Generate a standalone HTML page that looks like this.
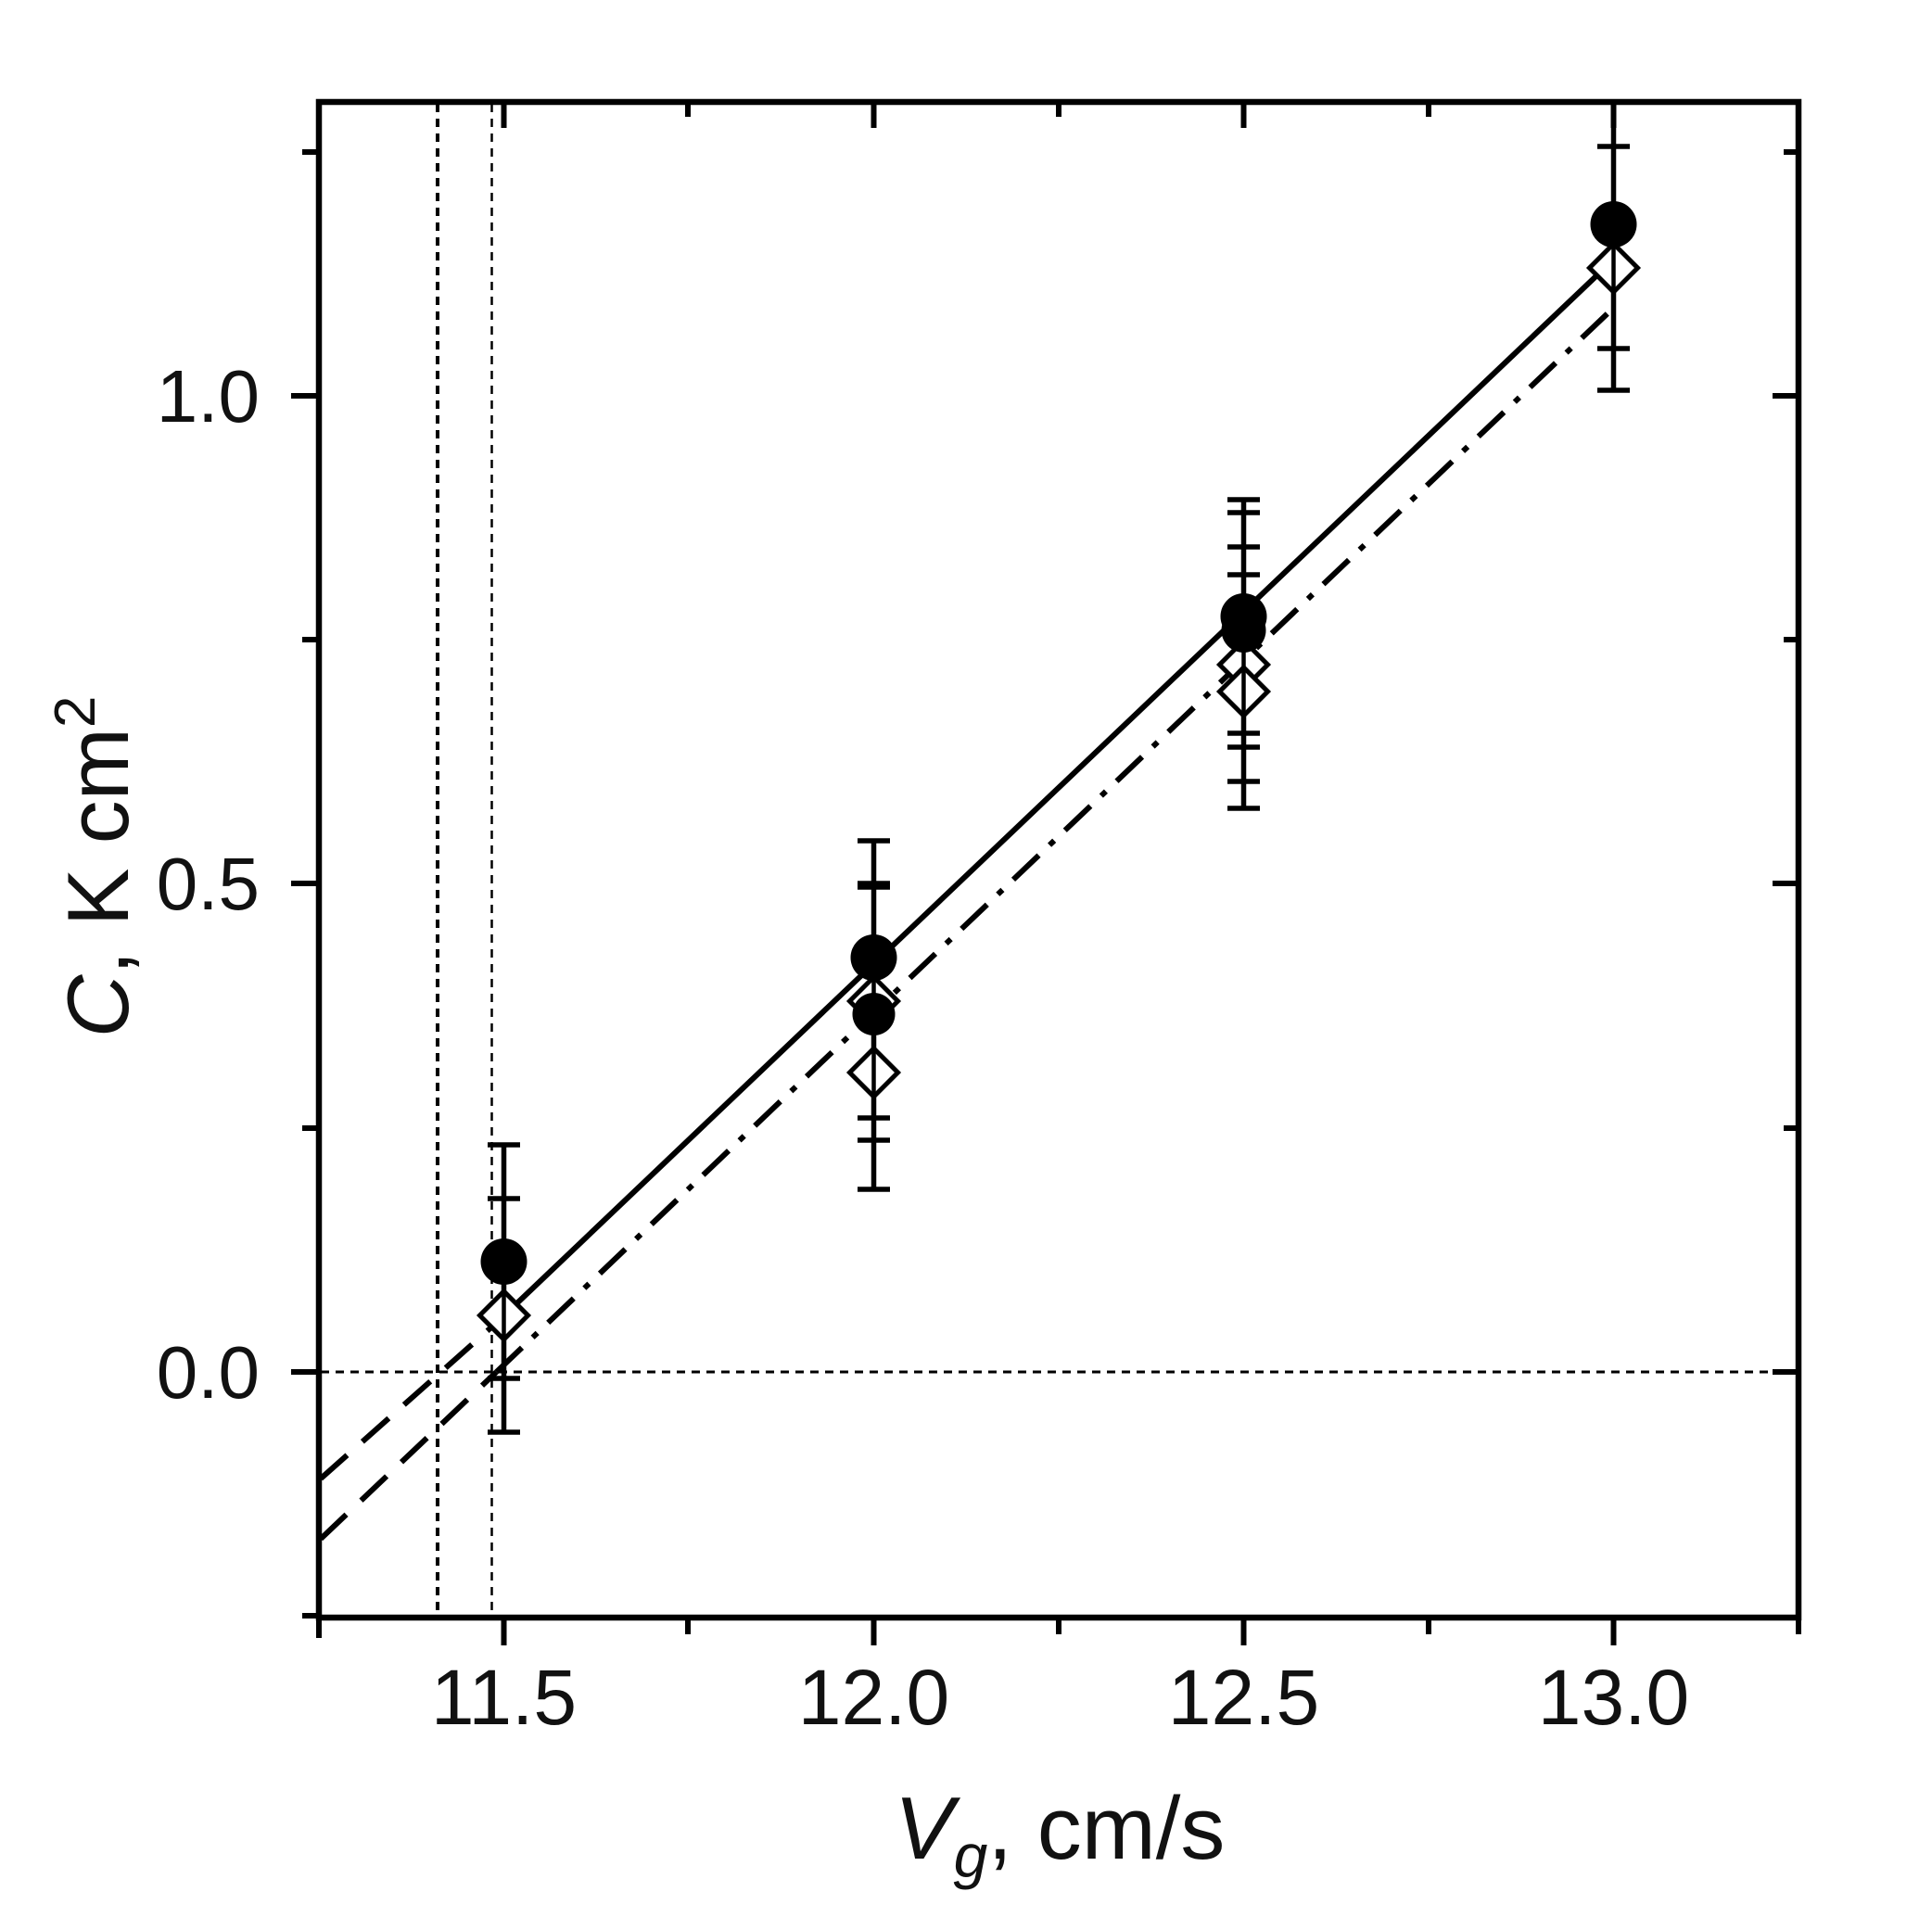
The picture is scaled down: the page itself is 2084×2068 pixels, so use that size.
<!DOCTYPE html>
<html><head><meta charset="utf-8"><style>html,body{margin:0;padding:0;background:#fff}svg{display:block}</style></head>
<body>
<svg width="2084" height="2068" viewBox="0 0 2084 2068" xmlns="http://www.w3.org/2000/svg" font-family="Liberation Sans, Arial, sans-serif">
<rect width="2084" height="2068" fill="#fff"/>
<g stroke="#000" fill="none">
<line x1="472" y1="112" x2="472" y2="1743" stroke-width="4" stroke-dasharray="9,7"/>
<line x1="530.5" y1="112" x2="530.5" y2="1743" stroke-width="2.5" stroke-dasharray="9,7"/>
<line x1="346" y1="1480" x2="1938" y2="1480" stroke-width="3" stroke-dasharray="9,7"/>
</g>
<g stroke="#000" fill="none" stroke-width="6">
<line x1="535.5" y1="1427" x2="1740.5" y2="280"/>
<line x1="346" y1="1595" x2="535.5" y2="1427" stroke-dasharray="38,22"/>
<line x1="535.5" y1="1480" x2="1740.5" y2="332" stroke-dasharray="38,16,7,16"/>
<line x1="346" y1="1660" x2="535.5" y2="1480" stroke-dasharray="38,22"/>
</g>
<g stroke="#000" stroke-width="5.5" fill="none">
<path d="M543.5 1235V1545 M526 1235H561 M526 1487H561 M526 1293H561 M526 1545H561"/>
<path d="M942.5 907V1283 M925 907H960 M925 1160H960 M925 957H960 M925 1230H960 M925 953H960 M925 1206H960 M925 1030H960 M925 1283H960"/>
<path d="M1341.5 539V872 M1324 539H1359 M1324 553H1359 M1324 590H1359 M1324 620H1359 M1324 791H1359 M1324 806H1359 M1324 843H1359 M1324 872H1359"/>
<path d="M1740.5 110V421 M1723 158H1758 M1723 376H1758 M1723 421H1758"/>
</g>
<g stroke="#000" stroke-width="5" fill="#fff">
<path d="M543.5 1393L569.5 1419L543.5 1445L517.5 1419Z"/>
<path d="M942.5 1054L968.5 1080L942.5 1106L916.5 1080Z"/>
<path d="M942.5 1131L968.5 1157L942.5 1183L916.5 1157Z"/>
<path d="M1341.5 691L1367.5 717L1341.5 743L1315.5 717Z"/>
<path d="M1341.5 720L1367.5 746L1341.5 772L1315.5 746Z"/>
<path d="M1740.5 263L1766.5 289L1740.5 315L1714.5 289Z"/>
</g>
<g stroke="#000" stroke-width="4.5"><path d="M543.5 1393V1445M942.5 1054V1183M1341.5 691V772M1740.5 263V315"/></g>
<g fill="#000">
<circle cx="543.5" cy="1361" r="25"/>
<circle cx="942.5" cy="1033" r="25"/>
<circle cx="942.5" cy="1094" r="23"/>
<circle cx="1341.5" cy="665" r="25"/>
<circle cx="1341.5" cy="680" r="24"/>
<circle cx="1740.5" cy="242" r="25"/>
</g>
<rect x="344" y="110" width="1596" height="1635" fill="none" stroke="#000" stroke-width="6.5"/>
<g stroke="#000" stroke-width="6">
<path d="M344 1745v22M543.5 1745v30M742 1745v18M942.5 1745v30M1142 1745v18M1341.5 1745v30M1541 1745v18M1740.5 1745v30M1940 1745v18"/>
<path d="M543.5 110v28M742 110v16M942.5 110v28M1142 110v16M1341.5 110v28M1541 110v16M1740.5 110v28"/>
<path d="M344 1480h-30M344 953h-30M344 427h-30M344 1743h-18M344 1217h-18M344 690h-18M344 164h-18"/>
<path d="M1940 1480h-28M1940 953h-28M1940 427h-28M1940 1217h-16M1940 690h-16M1940 164h-16"/>
</g>
<g font-size="80" fill="#111">
<g text-anchor="end">
<text x="280" y="455">1.0</text>
<text x="280" y="981">0.5</text>
<text x="280" y="1508">0.0</text>
</g>
<g text-anchor="middle" font-size="84">
<text x="543.5" y="1860">11.5</text>
<text x="942.5" y="1860">12.0</text>
<text x="1341.5" y="1860">12.5</text>
<text x="1740.5" y="1860">13.0</text>
</g>
</g>
<text x="1143" y="2005" font-size="96" text-anchor="middle" fill="#111"><tspan font-style="italic">V</tspan><tspan font-style="italic" font-size="66" dy="20">g</tspan><tspan dy="-20">, cm/s</tspan></text>
<text transform="translate(138,935) rotate(-90)" font-size="94" text-anchor="middle" fill="#111"><tspan font-style="italic">C</tspan>, K cm<tspan font-size="62" dy="-36">2</tspan></text>
</svg>
</body></html>
